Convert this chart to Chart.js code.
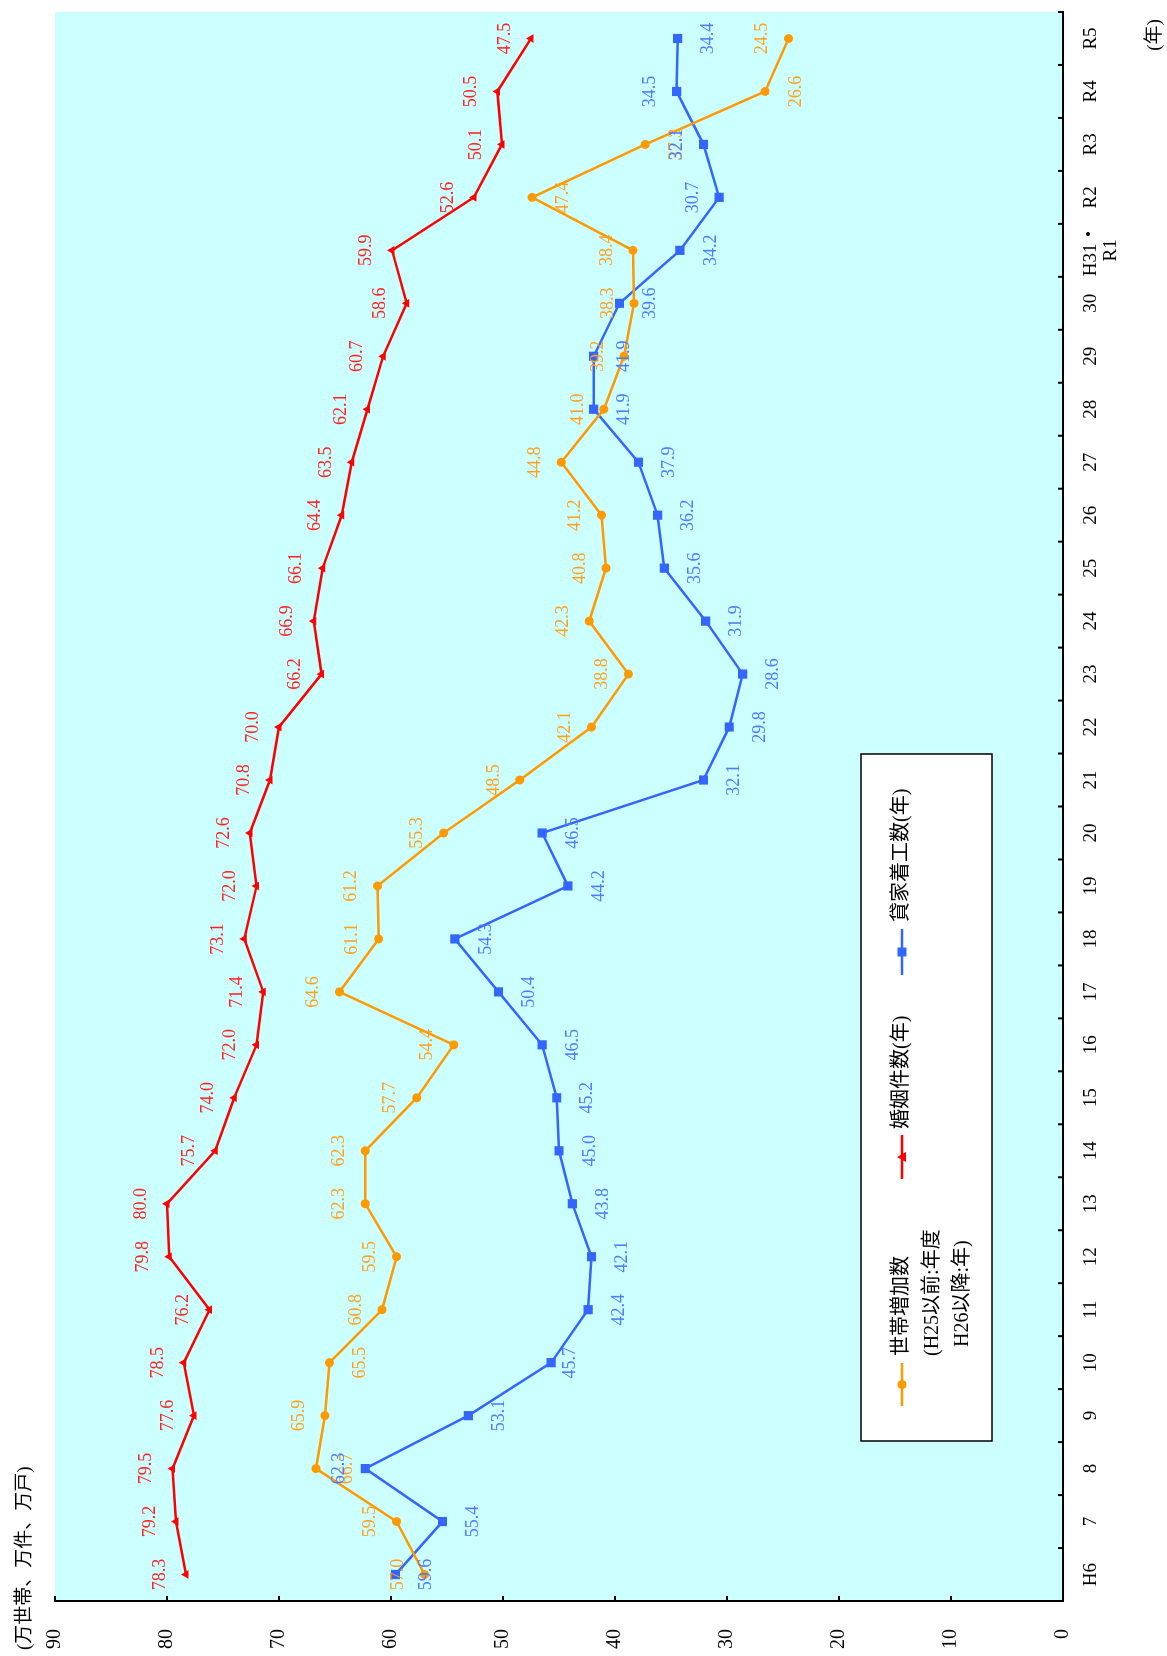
<!DOCTYPE html>
<html>
<head>
<meta charset="utf-8">
<script src="https://cdn.jsdelivr.net/npm/chart.js@4.4.0/dist/chart.umd.min.js"></script>
<style>
html, body { margin: 0; padding: 0; background: #fff; overflow: hidden; }
#wrap {
  position: absolute; left: 0; top: 0;
  width: 1656px; height: 1167px;
  transform-origin: 0 0;
  transform: translate(0, 1656px) rotate(-90deg);
}
</style>
</head>
<body>
<div id="wrap"><canvas id="myChart" width="1656" height="1167"></canvas></div>
<script>
// 年（H25以前は年度）
const years = ['H6','7','8','9','10','11','12','13','14','15','16','17','18','19','20',
  '21','22','23','24','25','26','27','28','29','30',['H31・','R1'],'R2','R3','R4','R5'];

// 世帯増加数（万世帯）
const households = [57.0, 59.5, 66.7, 65.9, 65.5, 60.8, 59.5, 62.3, 62.3, 57.7,
  54.4, 64.6, 61.1, 61.2, 55.3, 48.5, 42.1, 38.8, 42.3, 40.8,
  41.2, 44.8, 41.0, 39.2, 38.3, 38.4, 47.4, 37.3, 26.6, 24.5];

// 婚姻件数（万件）
const marriages = [78.3, 79.2, 79.5, 77.6, 78.5, 76.2, 79.8, 80.0, 75.7, 74.0,
  72.0, 71.4, 73.1, 72.0, 72.6, 70.8, 70.0, 66.2, 66.9, 66.1,
  64.4, 63.5, 62.1, 60.7, 58.6, 59.9, 52.6, 50.1, 50.5, 47.5];

// 貸家着工数（万戸）
const rentals = [59.6, 55.4, 62.3, 53.1, 45.7, 42.4, 42.1, 43.8, 45.0, 45.2,
  46.5, 50.4, 54.3, 44.2, 46.5, 32.1, 29.8, 28.6, 31.9, 35.6,
  36.2, 37.9, 41.9, 41.9, 39.6, 34.2, 30.7, 32.1, 34.5, 34.4];

const valueTicks = [0, 10, 20, 30, 40, 50, 60, 70, 80, 90];

// label side per point: a = above, b = below, c = close below
const householdsLabelSide = 'aababaaaaaaaaaaaaaaaaaaaaabbba'.split('');
const rentalsLabelSide    = 'bbabcbbbbbbbbbbbbbbbbbbbbbaaab'.split('');
const marriagesLabelSide  = 'aaaaaaaaaaaaaaaaaaaaaaaaaaaaaa'.split('');

const ORANGE = '#FF9900', RED = '#FF0000', BLUE = '#3366FF';
const SERIF = "'Liberation Serif', 'Noto Sans CJK JP', serif";

function marker(ctx, style, r, x, y, color) {
  ctx.fillStyle = color;
  ctx.beginPath();
  if (style === 'circle') {
    ctx.arc(x, y, r, 0, Math.PI * 2);
  } else if (style === 'rect') {
    ctx.rect(x - r, y - r, r * 2, r * 2);
  } else {
    ctx.moveTo(x, y - r);
    ctx.lineTo(x + r, y + r * 0.8);
    ctx.lineTo(x - r, y + r * 0.8);
    ctx.closePath();
  }
  ctx.fill();
}

const extras = {
  id: 'extras',
  beforeDraw(chart) {
    const { ctx, chartArea: a } = chart;
    ctx.save();
    ctx.fillStyle = '#CCFFFF';
    ctx.fillRect(a.left, a.top, a.right - a.left, a.bottom - a.top);
    ctx.restore();
  },
  afterDatasetsDraw(chart) {
    const ctx = chart.ctx;
    const sets = [
      { meta: chart.getDatasetMeta(0), vals: households, side: householdsLabelSide, color: '#FFA01E' },
      { meta: chart.getDatasetMeta(1), vals: marriages, side: marriagesLabelSide, color: '#FF2222' },
      { meta: chart.getDatasetMeta(2), vals: rentals, side: rentalsLabelSide, color: '#4B7BFF' }
    ];
    const offs = { a: -26, b: 31, c: 19 };
    ctx.save();
    ctx.font = '18px ' + SERIF;
    ctx.textAlign = 'center';
    ctx.textBaseline = 'middle';
    sets.forEach(s => {
      ctx.fillStyle = s.color;
      s.meta.data.forEach((pt, i) => {
        ctx.fillText(s.vals[i].toFixed(1), pt.x, pt.y + offs[s.side[i]]);
      });
    });
    ctx.restore();
  },
  afterDraw(chart) {
    const { ctx, chartArea: a } = chart;
    const xs = chart.scales.x, ys = chart.scales.y;
    ctx.save();
    // inward tick marks
    ctx.strokeStyle = '#000';
    ctx.lineWidth = 2;
    const half = (xs.getPixelForValue(1) - xs.getPixelForValue(0)) / 2;
    for (let i = 0; i <= years.length; i++) {
      const px = xs.getPixelForValue(i) - half;
      ctx.beginPath();
      ctx.moveTo(px, a.bottom);
      ctx.lineTo(px, a.bottom - 5);
      ctx.stroke();
    }
    ys.ticks.forEach(t => {
      const py = ys.getPixelForValue(t.value);
      ctx.beginPath();
      ctx.moveTo(a.left, py);
      ctx.lineTo(a.left + 5, py);
      ctx.stroke();
    });

    // unit labels
    ctx.fillStyle = '#000';
    ctx.font = '19px ' + SERIF;
    ctx.textBaseline = 'middle';
    ctx.textAlign = 'left';
    ctx.fillText('(万世帯、万件、万戸)', 6, 25);
    ctx.textAlign = 'center';
    ctx.fillText('(年)', 1621, 1155);

    // legend
    const box = { x: 215, y: 861, w: 687, h: 131 };
    ctx.fillStyle = '#fff';
    ctx.fillRect(box.x, box.y, box.w, box.h);
    ctx.strokeStyle = '#000';
    ctx.lineWidth = 1.5;
    ctx.strokeRect(box.x, box.y, box.w, box.h);

    const items = [
      { x0: 250, x1: 293, color: ORANGE, style: 'circle', r: 4.5, lines: [['世帯増加数', 300], ['(H25以前:年度', 300], ['H26以降:年)', 309]] },
      { x0: 477, x1: 521, color: RED, style: 'triangle', r: 5, lines: [['婚姻件数(年)', 527]] },
      { x0: 681, x1: 727, color: BLUE, style: 'rect', r: 4.5, lines: [['貸家着工数(年)', 734]] }
    ];
    const ly = 902;
    items.forEach(it => {
      ctx.strokeStyle = it.color;
      ctx.lineWidth = 2.5;
      ctx.beginPath();
      ctx.moveTo(it.x0, ly);
      ctx.lineTo(it.x1, ly);
      ctx.stroke();
      marker(ctx, it.style, it.r, (it.x0 + it.x1) / 2, ly, it.color);
      ctx.fillStyle = '#000';
      ctx.font = '20px ' + SERIF;
      ctx.textAlign = 'left';
      it.lines.forEach((ln, k) => ctx.fillText(ln[0], ln[1], ly + k * 30.5));
    });
    ctx.restore();
  }
};

Chart.defaults.font.family = SERIF;
Chart.defaults.color = '#000';

const ctx = document.getElementById('myChart');

new Chart(ctx, {
  type: 'line',
  data: {
    labels: years,
    datasets: [
      {
        label: '世帯増加数',
        data: households,
        borderColor: ORANGE,
        backgroundColor: ORANGE,
        borderWidth: 2.5,
        pointStyle: 'circle',
        pointRadius: 4.5,
        pointBorderWidth: 0,
        tension: 0
      },
      {
        label: '婚姻件数(年)',
        data: marriages,
        borderColor: RED,
        backgroundColor: RED,
        borderWidth: 2.5,
        pointStyle: 'triangle',
        pointRadius: 5,
        pointBorderWidth: 0,
        tension: 0
      },
      {
        label: '貸家着工数(年)',
        data: rentals,
        borderColor: BLUE,
        backgroundColor: BLUE,
        borderWidth: 2.5,
        pointStyle: 'rect',
        pointRadius: 6.5,
        pointBorderWidth: 0,
        tension: 0
      }
    ]
  },
  options: {
    responsive: false,
    animation: false,
    devicePixelRatio: 1,
    layout: { padding: { left: 0, right: 12, top: 55, bottom: 0 } },
    plugins: {
      legend: { display: false },
      tooltip: { enabled: false }
    },
    scales: {
      x: {
        type: 'category',
        offset: true,
        grid: { display: false, drawTicks: false },
        border: { display: true, color: '#000', width: 2 },
        ticks: {
          autoSkip: false,
          maxRotation: 0,
          minRotation: 0,
          padding: 18,
          color: '#000',
          font: { size: 19, lineHeight: 1.05 }
        },
        afterFit: s => { s.height = 104; }
      },
      y: {
        min: 0,
        max: 90,
        grid: { display: false, drawTicks: false },
        border: { display: true, color: '#000', width: 2 },
        afterBuildTicks: s => { s.ticks = valueTicks.map(v => ({ value: v })); },
        ticks: {
          padding: 28,
          color: '#000',
          font: { size: 20 }
        },
        afterFit: s => { s.width = 55; }
      }
    }
  },
  plugins: [extras]
});
</script>
</body>
</html>
